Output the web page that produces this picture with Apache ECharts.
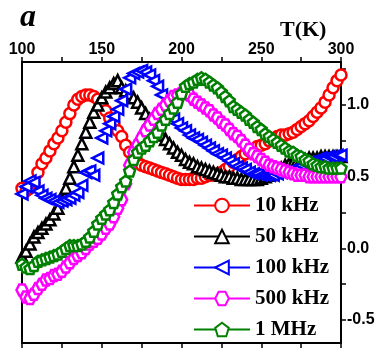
<!DOCTYPE html>
<html>
<head>
<meta charset="utf-8">
<script src="https://cdn.jsdelivr.net/npm/echarts@6/dist/echarts.min.js"></script>
<style>
html,body{margin:0;padding:0;background:#fff;}
#c{width:391px;height:358px;}
</style>
</head>
<body>
<div id="c"></div>
<script>
var temps = [100,102.5,105,107.5,110,112.5,115,117.5,120,122.5,125,127.5,130,132.5,135,137.5,140,142.5,145,147.5,150,152.5,155,157.5,160,162.5,165,167.5,170,172.5,175,177.5,180,182.5,185,187.5,190,192.5,195,197.5,200,202.5,205,207.5,210,212.5,215,217.5,220,222.5,225,227.5,230,232.5,235,237.5,240,242.5,245,247.5,250,252.5,255,257.5,260,262.5,265,267.5,270,272.5,275,277.5,280,282.5,285,287.5,290,292.5,295,297.5,300];

var red10k = [0.42,0.40,0.42,0.46,0.53,0.59,0.63,0.68,0.73,0.77,0.82,0.88,0.94,1.00,1.04,1.06,1.07,1.07,1.06,1.04,1.00,0.96,0.91,0.87,0.82,0.78,0.72,0.67,0.63,0.60,0.58,0.57,0.56,0.55,0.54,0.53,0.52,0.51,0.50,0.49,0.48,0.48,0.48,0.48,0.49,0.49,0.50,0.51,0.51,0.52,0.53,0.55,0.57,0.60,0.62,0.64,0.66,0.68,0.69,0.71,0.72,0.73,0.75,0.76,0.78,0.79,0.79,0.80,0.81,0.83,0.85,0.87,0.89,0.92,0.95,0.98,1.02,1.07,1.12,1.17,1.21];

var black50k = [-0.06,-0.02,0.03,0.08,0.11,0.14,0.17,0.20,0.24,0.28,0.34,0.42,0.49,0.57,0.65,0.73,0.81,0.88,0.95,1.00,1.05,1.09,1.12,1.15,1.17,1.12,1.10,1.08,1.05,1.02,0.98,0.94,0.90,0.86,0.83,0.79,0.76,0.73,0.70,0.67,0.65,0.62,0.60,0.59,0.57,0.56,0.55,0.54,0.53,0.52,0.51,0.50,0.50,0.49,0.49,0.48,0.48,0.48,0.48,0.48,0.49,0.50,0.51,0.53,0.55,0.56,0.58,0.59,0.60,0.61,0.62,0.62,0.63,0.63,0.63,0.64,0.64,0.64,0.64,0.64,0.64];

var blue100k = [0.38,0.43,0.47,0.46,0.40,0.37,0.35,0.34,0.33,0.32,0.33,0.34,0.35,0.37,0.39,0.44,0.53,0.54,0.51,0.63,0.77,0.82,0.87,0.92,0.97,1.03,1.11,1.19,1.22,1.23,1.24,1.23,1.21,1.17,1.13,1.07,1.00,0.94,0.90,0.87,0.84,0.82,0.79,0.77,0.76,0.74,0.72,0.70,0.68,0.66,0.65,0.63,0.61,0.59,0.57,0.56,0.55,0.53,0.52,0.52,0.51,0.51,0.51,0.51,0.52,0.53,0.53,0.54,0.55,0.56,0.58,0.59,0.60,0.61,0.62,0.63,0.63,0.64,0.64,0.65,0.65];

var magenta500k = [-0.29,-0.34,-0.35,-0.32,-0.28,-0.25,-0.22,-0.21,-0.19,-0.18,-0.16,-0.13,-0.10,-0.07,-0.05,-0.03,0.00,0.03,0.05,0.07,0.10,0.14,0.17,0.22,0.28,0.34,0.45,0.58,0.67,0.72,0.77,0.82,0.86,0.90,0.94,0.97,1.00,1.03,1.06,1.07,1.08,1.09,1.07,1.04,1.02,1.00,0.98,0.96,0.93,0.91,0.88,0.86,0.83,0.80,0.78,0.75,0.72,0.69,0.66,0.64,0.62,0.60,0.58,0.57,0.56,0.55,0.54,0.53,0.52,0.51,0.51,0.51,0.50,0.50,0.50,0.50,0.50,0.50,0.50,0.50,0.50];

var green1M = [-0.11,-0.13,-0.14,-0.12,-0.09,-0.08,-0.07,-0.06,-0.05,-0.04,-0.02,0.00,0.02,0.02,0.02,0.03,0.05,0.08,0.12,0.17,0.21,0.24,0.27,0.32,0.38,0.43,0.47,0.54,0.62,0.67,0.70,0.72,0.75,0.78,0.81,0.86,0.90,0.94,0.98,1.02,1.08,1.13,1.15,1.16,1.18,1.19,1.18,1.16,1.14,1.12,1.09,1.06,1.03,0.99,0.97,0.95,0.93,0.90,0.88,0.85,0.83,0.80,0.78,0.76,0.74,0.72,0.70,0.68,0.67,0.65,0.64,0.62,0.61,0.59,0.58,0.57,0.57,0.56,0.56,0.56,0.56];

var seriesNames = ['10 kHz','50 kHz','100 kHz','500 kHz','1 MHz'];
var xTicks = [100,150,200,250,300];
var yLabelValues = [-0.5,0,0.5,1.0];
var yTickValues = [-0.5,-0.25,0,0.25,0.5,0.75,1.0,1.25];

var colors = ['#ff0000','#000000','#0000ff','#ff00ff','#008000'];
var symbols = [
  'circle',
  'path://M0,-1 L1,0.75 L-1,0.75 Z',
  'path://M-1,0 L0.8,-1 L0.8,1 Z',
  'path://M-1,0 L-0.5,-0.866 L0.5,-0.866 L1,0 L0.5,0.866 L-0.5,0.866 Z',
  'path://M0,-1 L0.951,-0.309 L0.588,0.809 L-0.588,0.809 L-0.951,-0.309 Z'
];
var allVals = [red10k, black50k, blue100k, magenta500k, green1M];

function zip(vals){ return temps.map(function(t,i){ return [t, vals[i]]; }); }

var series = allVals.map(function(vals, k){
  return {
    name: seriesNames[k],
    type: 'line',
    xAxisIndex: 0,
    yAxisIndex: 0,
    data: zip(vals),
    symbol: symbols[k],
    symbolSize: 11,
    showSymbol: true,
    lineStyle: {color: colors[k], width: 0, opacity: 0},
    itemStyle: {color: '#ffffff', borderColor: colors[k], borderWidth: 2.5},
    emphasis: {disabled: true},
    z: 2 + k
  };
});

var chart = echarts.init(document.getElementById('c'), null, {renderer: 'canvas'});
chart.setOption({
  animation: false,
  backgroundColor: '#ffffff',
  title: [
    {text: 'a', left: 15, top: -3, textStyle: {fontFamily: 'Liberation Serif', fontWeight: 'bold', fontStyle: 'italic', fontSize: 32, color: '#000'}},
    {text: 'T(K)', left: 275, top: 14, textStyle: {fontFamily: 'Liberation Serif', fontWeight: 'bold', fontSize: 22, color: '#000'}}
  ],
  grid: {left: 22, right: 50, top: 62, bottom: 15, containLabel: false},
  xAxis: [
    {type: 'value', position: 'top', min: 100, max: 300, interval: 25,
     axisLine: {show: true, onZero: false, lineStyle: {color: '#000', width: 2}},
     axisTick: {show: true, inside: false, length: 5, lineStyle: {color: '#000', width: 1.5}},
     axisLabel: {margin: 4, fontFamily: 'Liberation Sans', fontWeight: 'bold', fontSize: 16, color: '#000',
       formatter: function(v){ return xTicks.indexOf(v) >= 0 ? String(v) : ''; }},
     splitLine: {show: false}},
    {type: 'value', position: 'bottom', min: 100, max: 300, interval: 25,
     axisLine: {show: true, onZero: false, lineStyle: {color: '#000', width: 2}},
     axisTick: {show: true, inside: false, length: 5, lineStyle: {color: '#000', width: 1.5}},
     axisLabel: {show: false},
     splitLine: {show: false}}
  ],
  yAxis: [
    {type: 'value', position: 'right', min: -0.66, max: 1.3,
     axisLine: {show: true, onZero: false, lineStyle: {color: '#000', width: 2}},
     axisTick: {show: true, inside: false, length: 5, customValues: yTickValues, lineStyle: {color: '#000', width: 1.5}},
     axisLabel: {margin: 6, customValues: yLabelValues, fontFamily: 'Liberation Sans', fontWeight: 'bold', fontSize: 16, color: '#000',
       formatter: function(v){ return v.toFixed(1); }},
     splitLine: {show: false}},
    {type: 'value', position: 'left', min: -0.66, max: 1.3,
     axisLine: {show: true, onZero: false, lineStyle: {color: '#000', width: 2}},
     axisTick: {show: false}, axisLabel: {show: false}, splitLine: {show: false}}
  ],
  legend: {
    orient: 'vertical',
    left: 193, top: 193,
    height: 164,
    padding: 0,
    itemWidth: 56, itemHeight: 17, itemGap: 6,
    data: seriesNames,
    lineStyle: {width: 2, opacity: 1},
    textStyle: {fontFamily: 'Liberation Serif', fontWeight: 'bold', fontSize: 21, lineHeight: 25, color: '#000'},
    selectedMode: false
  },
  series: series
});
</script>
</body>
</html>
